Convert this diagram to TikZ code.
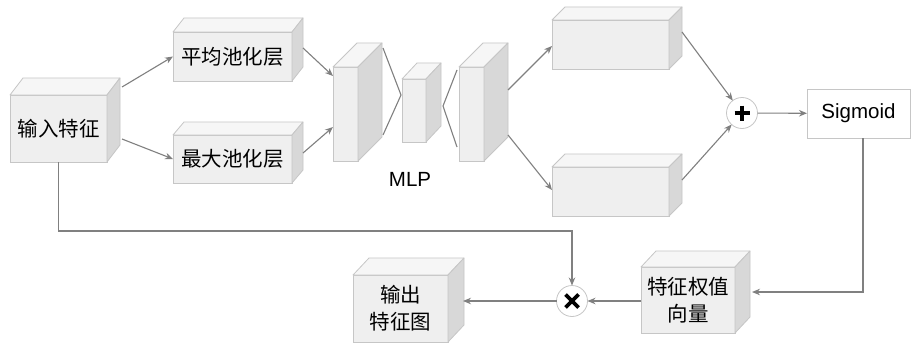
\documentclass[tikz,border=0pt]{standalone}
\usepackage{fontspec}
\setmainfont{Liberation Sans}
\newfontfamily\cjk{Noto Sans CJK SC}
\usetikzlibrary{calc,arrows.meta}

\definecolor{facefront}{RGB}{239,239,239}
\definecolor{facetop}{RGB}{246,246,246}
\definecolor{faceside}{RGB}{216,216,216}
\definecolor{edgegray}{RGB}{198,198,198}
\definecolor{linegray}{RGB}{128,128,128}

\tikzset{
  front/.style={draw=edgegray, fill=facefront, line width=0.8pt, rectangle,
    inner sep=0pt, outer sep=0pt, align=center,
    font=\cjk\fontsize{20.5}{27}\selectfont},
  topface/.style={draw=edgegray, fill=facetop, line width=0.8pt, line join=round},
  sideface/.style={draw=edgegray, fill=faceside, line width=0.8pt, line join=round},
  arr/.style={draw=linegray, line width=1.1pt, -{Stealth[length=8pt,width=6.5pt]}},
  link/.style={draw=linegray, line width=1.1pt},
  opnode/.style={circle, draw=edgegray, fill=white, line width=0.8pt,
    minimum size=31pt, inner sep=0pt, outer sep=0pt},
  flatbox/.style={draw=edgegray, fill=white, line width=0.8pt, rectangle,
    inner sep=0pt, outer sep=0pt, font=\fontsize{20.5}{24}\selectfont},
  opmark/.style={line width=3.8pt, black},
}

% \cuboid{name}{left}{top}{right}{bottom}{depth x}{depth y}{label}
\newcommand\cuboid[8]{%
  \node[front, minimum width={(#4-#2)*1pt}, minimum height={(#5-#3)*1pt}]
    (#1) at ({(#2+#4)/2},{(#3+#5)/2}) {#8};
  \path[topface] (#1.north west) -- ++(#6,-#7)
    -- ([shift={(#6,-#7)}]#1.north east) -- (#1.north east) -- cycle;
  \path[sideface] (#1.north east) -- ++(#6,-#7)
    -- ([shift={(#6,-#7)}]#1.south east) -- (#1.south east) -- cycle;
}

\begin{document}
\begin{tikzpicture}[x=1pt,y=-1pt]
  \useasboundingbox[fill=white] (0,0) rectangle (912,345);

  % blocks
  \cuboid{in}{10}{95}{107}{162}{13}{17}{输入特征}
  \cuboid{avg}{173}{32}{292}{81}{11}{14}{平均池化层}
  \cuboid{max}{173}{135}{292}{183}{11}{13}{最大池化层}
  \cuboid{mlpa}{333}{67}{358}{161}{24}{24}{}
  \cuboid{mlpb}{402}{79}{426}{142}{15}{16}{}
  \cuboid{mlpc}{459}{67}{484}{161}{24}{24}{}
  \cuboid{fca}{552}{20}{669}{69}{13}{13}{}
  \cuboid{fcb}{552}{167}{669}{216}{13}{13}{}
  \cuboid{wt}{641}{267}{735}{333}{15}{16}{特征权值\\向量}
  \cuboid{out}{353}{275}{448}{342}{16}{17}{输出\\特征图}

  \node[flatbox, minimum width=103pt, minimum height=49pt] (sig) at (858.5,113.5) {Sigmoid};
  \node[font=\fontsize{20.5}{24}\selectfont] (mlp) at (410,179) {MLP};

  % operators
  \node[opnode] (plus) at (742,113) {};
  \draw[opmark] ($(plus)+(-7.5,0)$) -- ($(plus)+(7.5,0)$);
  \draw[opmark] ($(plus)+(0,-7.5)$) -- ($(plus)+(0,7.5)$);
  \node[opnode] (times) at (572,301) {};
  \draw[opmark] ($(times)+(-6.5,-6.5)$) -- ($(times)+(6.5,6.5)$);
  \draw[opmark] ($(times)+(-6.5,6.5)$) -- ($(times)+(6.5,-6.5)$);

  % pooling branches
  \draw[arr] ($(in.north east)+(15,-8)$) -- (avg.west);
  \draw[arr] ($(in.south east)+(15,-23)$) -- (max.west);
  \draw[arr] ($(avg.east)+(11,-8.5)$) -- ($(mlpa.north west)+(0,9)$);
  \draw[arr] ($(max.east)+(11,-6)$) -- ($(mlpa.south west)+(0,-34)$);

  % shared MLP
  \draw[link] ($(mlpa.north east)+(25,-19)$) -- ($(mlpb.north west)+(-1,16)$)
    -- ($(mlpa.south east)+(25,-26)$);
  \draw[link] ($(mlpc.north west)+(-2,3)$) -- ($(mlpb.east)+(17,-4.5)$)
    -- ($(mlpc.south west)+(-2,-14)$);
  \draw[arr] ($(mlpc.north east)+(24,23)$) -- ($(fca.south west)+(0,-23)$);
  \draw[arr] ($(mlpc.south east)+(24,-26)$) -- ($(fcb.north west)+(0,23)$);

  % sum and activation
  \draw[arr] ($(fca.north east)+(13,12)$) -- (plus);
  \draw[arr] ($(fcb.north east)+(13,13)$) -- (plus);
  \draw[arr] (plus) -- (sig);
  \draw[arr] ($(sig.south)+(4.5,0)$) |- ($(wt.east)+(17,-8)$);

  % reweighting
  \draw[arr] (wt.west |- times) -- (times.east);
  \draw[arr] (times.west) -- ($(out.east)+(15,-7.5)$);
  \draw[arr] (in.south) -- ++(0,69) -| (times.north);
\end{tikzpicture}
\end{document}
